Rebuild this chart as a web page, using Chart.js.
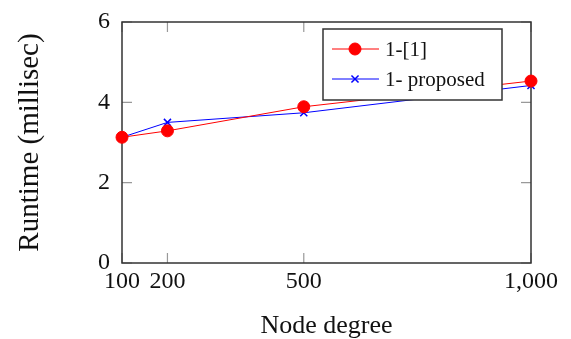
<!DOCTYPE html>
<html>
<head>
<meta charset="utf-8">
<script src="https://cdn.jsdelivr.net/npm/chart.js@4.4.1/dist/chart.umd.min.js"></script>
<style>
    html, body { margin: 0; padding: 0; background: #fff; }
    #wrap { width: 571px; height: 339px; }
</style>
</head>
<body>
<div id="wrap"><canvas id="runtime-chart"></canvas></div>
<script>
// Runtime vs node degree

const nodeDegrees = [100, 200, 500, 1000];
const runtimeRef = [3.13, 3.29, 3.89, 4.53];
const runtimeProposed = [3.13, 3.50, 3.74, 4.42];
const yTicks = [0, 2, 4, 6];

const seriesLabels = ['1-[1]', '1- proposed'];

const serif = "'Liberation Serif', 'DejaVu Serif', serif";

function toPoints(xs, ys) {
    return xs.map((x, i) => ({ x: x, y: ys[i] }));
}

// frame + inward tick marks, like the original
const framePlugin = {
    id: 'frame',
    beforeDatasetsDraw(chart) {
        const { ctx, chartArea: a, scales } = chart;
        ctx.save();
        ctx.strokeStyle = '#999';
        ctx.lineWidth = 1.2;
        const len = 10;
        ctx.beginPath();
        nodeDegrees.forEach(v => {
            const px = scales.x.getPixelForValue(v);
            ctx.moveTo(px, a.bottom); ctx.lineTo(px, a.bottom - len);
            ctx.moveTo(px, a.top); ctx.lineTo(px, a.top + len);
        });
        yTicks.forEach(v => {
            const py = scales.y.getPixelForValue(v);
            ctx.moveTo(a.left, py); ctx.lineTo(a.left + len, py);
            ctx.moveTo(a.right, py); ctx.lineTo(a.right - len, py);
        });
        ctx.stroke();
        ctx.strokeStyle = '#333';
        ctx.lineWidth = 1.5;
        ctx.strokeRect(a.left, a.top, a.right - a.left, a.bottom - a.top);
        ctx.restore();
    }
};

// boxed legend in the upper right of the plot
const boxLegend = {
    id: 'boxLegend',
    afterDraw(chart) {
        const { ctx, chartArea: a } = chart;
        const x0 = a.right - 208, y0 = a.top + 7, w = 179, h = 71;
        ctx.save();
        ctx.fillStyle = '#fff';
        ctx.fillRect(x0, y0, w, h);
        ctx.strokeStyle = '#333';
        ctx.lineWidth = 1.5;
        ctx.strokeRect(x0, y0, w, h);
        ctx.font = '21px ' + serif;
        ctx.textBaseline = 'middle';
        chart.data.datasets.forEach((ds, i) => {
            const yy = y0 + 20 + i * 30;
            ctx.strokeStyle = ds.borderColor;
            ctx.fillStyle = ds.borderColor;
            ctx.lineWidth = 1;
            ctx.beginPath();
            ctx.moveTo(x0 + 9, yy);
            ctx.lineTo(x0 + 56, yy);
            ctx.stroke();
            ctx.lineWidth = ds.pointBorderWidth || 1;
            Chart.helpers.drawPoint(ctx, {
                pointStyle: ds.pointStyle,
                radius: ds.pointRadius,
                borderWidth: ds.pointBorderWidth || 1
            }, x0 + 32, yy);
            ctx.fillStyle = '#111';
            ctx.fillText(ds.label, x0 + 62, yy + 1);
        });
        ctx.restore();
    }
};

const ctx = document.getElementById('runtime-chart');
new Chart(ctx, {
    type: 'line',
    data: {
        datasets: [
            {
                label: seriesLabels[0],
                data: toPoints(nodeDegrees, runtimeRef),
                borderColor: '#ff0000',
                backgroundColor: '#ff0000',
                borderWidth: 1,
                pointStyle: 'circle',
                pointRadius: 6,
                pointBackgroundColor: '#ff0000',
                pointBorderColor: '#ff0000',
                clip: false
            },
            {
                label: seriesLabels[1],
                data: toPoints(nodeDegrees, runtimeProposed),
                borderColor: '#0000ff',
                backgroundColor: '#0000ff',
                borderWidth: 1,
                pointStyle: 'crossRot',
                pointRadius: 5,
                pointBorderWidth: 1.5,
                pointBorderColor: '#0000ff',
                clip: false
            }
        ]
    },
    options: {
        responsive: true,
        maintainAspectRatio: false,
        animation: false,
        layout: { padding: { top: 22, right: 40, left: 0, bottom: 0 } },
        plugins: {
            legend: { display: false },
            tooltip: { enabled: false }
        },
        scales: {
            x: {
                type: 'linear',
                min: 100,
                max: 1000,
                afterBuildTicks: s => { s.ticks = nodeDegrees.map(v => ({ value: v })); },
                afterFit: s => { s.height = 76; },
                grid: { display: false, drawTicks: false },
                border: { display: false },
                ticks: {
                    color: '#111',
                    padding: 4,
                    maxRotation: 0,
                    autoSkip: false,
                    font: { family: serif, size: 24 },
                    callback: v => v.toLocaleString('en-US')
                },
                title: {
                    display: true,
                    text: 'Node degree',
                    color: '#111',
                    padding: 0,
                    font: { family: serif, size: 26, lineHeight: 1 }
                }
            },
            y: {
                min: 0,
                max: 6,
                afterBuildTicks: s => { s.ticks = yTicks.map(v => ({ value: v })); },
                afterFit: s => { s.width = 122; s.paddingTop = 0; s.paddingBottom = 0; },
                grid: { display: false, drawTicks: false },
                border: { display: false },
                ticks: {
                    color: '#111',
                    padding: 12,
                    font: { family: serif, size: 24, lineHeight: 1 }
                },
                title: {
                    display: true,
                    text: 'Runtime (millisec)',
                    color: '#111',
                    padding: { top: 13, bottom: 0 },
                    font: { family: serif, size: 29, lineHeight: 1.2 }
                }
            }
        }
    },
    plugins: [framePlugin, boxLegend]
});
</script>
</body>
</html>
